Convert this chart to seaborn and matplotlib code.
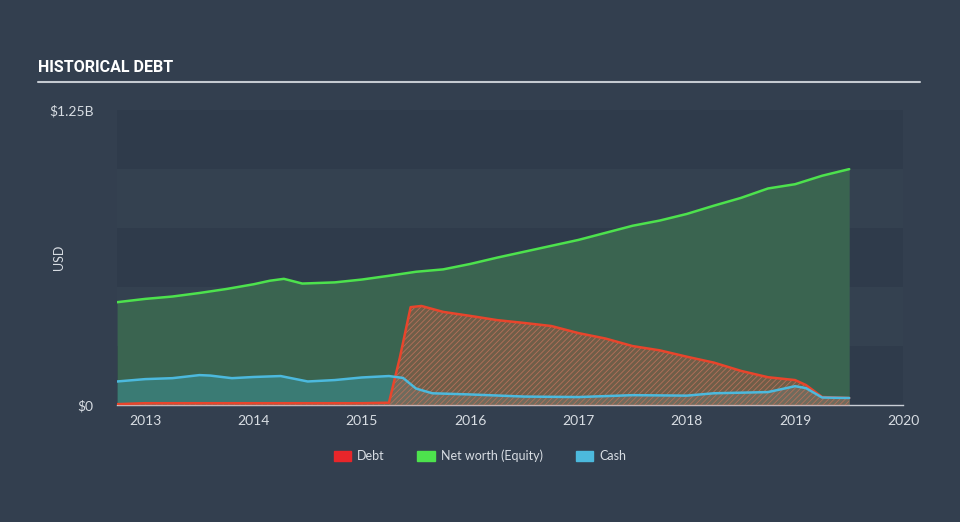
import matplotlib
matplotlib.use("Agg")
import matplotlib.pyplot as plt
import seaborn as sns
import pandas as pd
import numpy as np

# values (years as decimals, amounts in $B)
nw_year = [2012.74, 2013.0, 2013.25, 2013.5, 2013.75, 2014.0, 2014.15, 2014.28, 2014.45, 2014.75,
           2015.0, 2015.25, 2015.5, 2015.75, 2016.0, 2016.25, 2016.5, 2016.75, 2017.0, 2017.25,
           2017.5, 2017.75, 2018.0, 2018.25, 2018.5, 2018.75, 2019.0, 2019.25, 2019.5]
nw_value = [0.436, 0.450, 0.460, 0.475, 0.492, 0.512, 0.527, 0.535, 0.515, 0.520,
            0.532, 0.548, 0.565, 0.575, 0.598, 0.625, 0.650, 0.675, 0.700, 0.730,
            0.760, 0.782, 0.810, 0.845, 0.878, 0.918, 0.936, 0.972, 1.000]

debt_year = [2012.74, 2013.0, 2014.0, 2015.0, 2015.25, 2015.35, 2015.45, 2015.55, 2015.75, 2016.0,
             2016.25, 2016.5, 2016.75, 2017.0, 2017.25, 2017.5, 2017.75, 2018.0, 2018.25, 2018.5,
             2018.75, 2019.0, 2019.1, 2019.25, 2019.5]
debt_value = [0.004, 0.008, 0.008, 0.008, 0.010, 0.200, 0.415, 0.420, 0.395, 0.378,
              0.360, 0.348, 0.335, 0.305, 0.282, 0.250, 0.232, 0.205, 0.180, 0.145,
              0.118, 0.106, 0.085, 0.034, 0.030]

cash_year = [2012.74, 2013.0, 2013.25, 2013.5, 2013.6, 2013.8, 2014.0, 2014.25, 2014.5, 2014.75,
             2015.0, 2015.25, 2015.38, 2015.5, 2015.65, 2016.0, 2016.5, 2017.0, 2017.5, 2018.0,
             2018.25, 2018.75, 2019.0, 2019.1, 2019.25, 2019.5]
cash_value = [0.100, 0.110, 0.114, 0.127, 0.125, 0.114, 0.119, 0.123, 0.100, 0.106,
              0.117, 0.123, 0.115, 0.070, 0.050, 0.045, 0.036, 0.034, 0.042, 0.040,
              0.050, 0.055, 0.080, 0.072, 0.032, 0.030]

year_ticks = [2013, 2014, 2015, 2016, 2017, 2018, 2019, 2020]

nw = pd.DataFrame({"year": nw_year, "value": nw_value})
debt = pd.DataFrame({"year": debt_year, "value": debt_value})
cash = pd.DataFrame({"year": cash_year, "value": cash_value})

bg = "#333f4f"
sns.set_theme(style="dark", rc={"figure.facecolor": bg, "axes.facecolor": bg})
plt.rcParams["font.family"] = ["Lato", "DejaVu Sans"]
plt.rcParams["hatch.linewidth"] = 0.6

fig = plt.figure(figsize=(9.6, 5.22), dpi=100)
ax = fig.add_axes([0.122, 0.224, 0.819, 0.565])

# alternating horizontal bands
for i in range(5):
    c = "#2f3b4b" if i % 2 == 0 else "#344150"
    ax.axhspan(i * 0.25, (i + 1) * 0.25, color=c, zorder=0, lw=0)

green, red, blue = "#4de24d", "#e8452c", "#4cb9dd"

ax.fill_between(nw.year, nw.value, 0, color="#3a6450", zorder=1, lw=0)
ax.fill_between(cash.year, cash.value, 0, color="#3b8f93", alpha=0.55, zorder=2, lw=0)
ax.fill_between(debt.year, debt.value, 0, facecolor="#c0553c", alpha=0.4, zorder=3, lw=0)
ax.fill_between(debt.year, debt.value, 0, facecolor="none", edgecolor="#b5705a",
                hatch="//////", zorder=3, lw=0)

sns.lineplot(data=nw, x="year", y="value", color=green, lw=1.8, ax=ax, zorder=5)
sns.lineplot(data=debt, x="year", y="value", color=red, lw=1.8, ax=ax, zorder=5)
sns.lineplot(data=cash, x="year", y="value", color=blue, lw=1.8, ax=ax, zorder=6)

ax.set_xlim(2012.74, 2020.0)
ax.set_ylim(0, 1.25)
ax.set_xticks(year_ticks)
ax.set_xticklabels([str(y) for y in year_ticks], color="#d8dde3", fontsize=10)
ax.set_yticks([0, 1.25])
ax.set_yticklabels(["$0", "$1.25B"], color="#d8dde3", fontsize=10)
ax.tick_params(axis="x", length=5, width=1, color="#c9ced6", pad=2)
ax.tick_params(axis="y", length=0, pad=17)
ax.set_xlabel("")
ax.set_ylabel("USD", color="#d8dde3", fontsize=9)
ax.yaxis.set_label_coords(-0.066, 0.5)

for s in ["top", "right", "left"]:
    ax.spines[s].set_visible(False)
ax.spines["bottom"].set_color("#c9ced6")
ax.spines["bottom"].set_linewidth(1)
ax.grid(False)

# title and rule
fig.text(38 / 960, 1 - 68 / 522, "HISTORICAL DEBT", color="white", fontsize=11.5,
         fontweight="bold", family=["Roboto", "DejaVu Sans"], va="center")
fig.add_artist(plt.Line2D([38 / 960, 920 / 960], [1 - 82 / 522, 1 - 82 / 522],
                          color="#c5cad1", lw=1.5))

handles = [plt.Rectangle((0, 0), 1, 1, color="#e8262a"),
           plt.Rectangle((0, 0), 1, 1, color="#4de24d"),
           plt.Rectangle((0, 0), 1, 1, color="#4cb9dd")]
fig.legend(handles, ["Debt", "Net worth (Equity)", "Cash"], loc="center",
           bbox_to_anchor=(0.5, 1 - 456 / 522), ncol=3, frameon=False,
           fontsize=9, labelcolor="#d8dde3", handlelength=1.4, handleheight=0.9,
           columnspacing=2.6, handletextpad=0.5)

fig.savefig("out.png", dpi=100, facecolor=bg)
